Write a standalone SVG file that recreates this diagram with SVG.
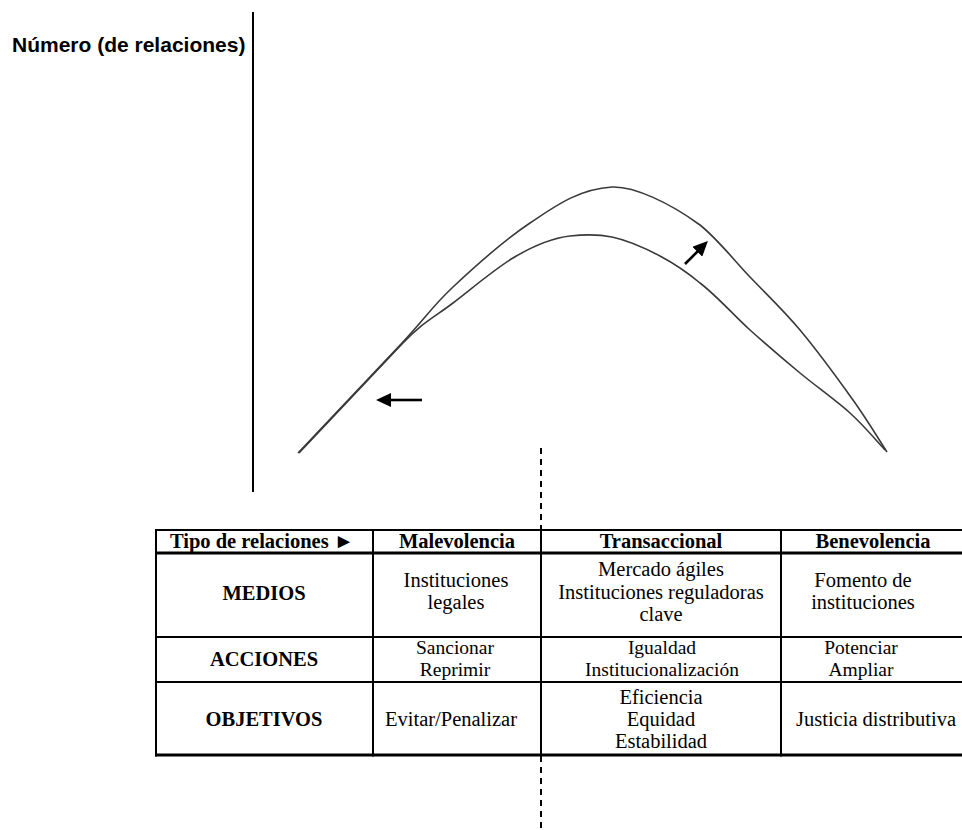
<svg xmlns="http://www.w3.org/2000/svg" width="962" height="830" viewBox="0 0 962 830">
<style>
.curve{fill:none;stroke:#3a3a3a;stroke-width:1.6}
.arr{stroke:#000;stroke-width:2.6;fill:none}
.grid{stroke:#000;stroke-width:2;fill:none}
.thick{stroke:#000;stroke-width:3.2;fill:none}
.dash{stroke:#000;stroke-width:2;stroke-dasharray:6 5;fill:none}
.hd{font-family:"Liberation Serif","Times New Roman",serif;font-weight:bold;font-size:20.5px;fill:#000;text-anchor:middle}
.tx{font-family:"Liberation Serif","Times New Roman",serif;font-size:20.5px;fill:#000;text-anchor:middle}
.sm{font-size:19.5px}
.lab{font-family:"Liberation Sans",Arial,sans-serif;font-weight:bold;font-size:21px;fill:#000}
</style>
<defs>
<marker id="head" viewBox="0 0 15 14" refX="1" refY="7" markerWidth="15" markerHeight="14" markerUnits="userSpaceOnUse" orient="auto">
<path d="M0,0 L15,7 L0,14 z" fill="#000"/>
</marker>
</defs>
<rect width="962" height="830" fill="#fff"/>

<g id="axis">
<line x1="253" y1="12" x2="253" y2="492" stroke="#000" stroke-width="2"/>
<text class="lab" x="12" y="52">Número (de relaciones)</text>
</g>

<g id="curves">
<path id="outer-curve" class="curve" d="M298,453 L402,343 C427.8,315.3 431.7,307 453,287 C474.3,267 506,239 530,223 C554,207 578,189 612,187 C634,186 670,203 700,225 C717.8,239.2 733.3,259.5 750,277 C766.7,294.5 782.8,309.5 800,330 C817.2,350.5 838.5,379.7 853,400 C867.5,420.3 881.3,443.3 887,452"/>
<path id="inner-curve" class="curve" d="M299,453 L402,344 C424,321 434.5,317.2 453,303 C471.5,288.8 494.7,269 513,258 C531.3,247 552,238 570,236 C588,234 600,234.5 612,237 C626,240 643,247 660,256 C675,264 688,273 700,283 C717.8,296.7 733.3,315 750,330 C766.7,345 783.3,359.2 800,373 C816.7,386.8 835.8,400.2 850,413 C864.2,425.8 879.2,443.8 885,450"/>
</g>

<g id="connectors">
<line class="arr" x1="422" y1="400" x2="390" y2="400" marker-end="url(#head)"/>
<line class="arr" x1="685" y1="264" x2="698" y2="251" marker-end="url(#head)"/>
<line class="dash" x1="541" y1="448" x2="541" y2="530"/>
<line class="dash" x1="541" y1="756" x2="541" y2="830"/>
</g>

<g id="table">
<g id="table-lines">
<line class="grid" x1="155" y1="530" x2="962" y2="530"/>
<line class="thick" x1="155" y1="553" x2="962" y2="553"/>
<line class="grid" x1="155" y1="637" x2="962" y2="637"/>
<line class="grid" x1="155" y1="682" x2="962" y2="682"/>
<line class="thick" x1="155" y1="755" x2="962" y2="755"/>
<line class="grid" x1="156" y1="529" x2="156" y2="756.5"/>
<line class="grid" x1="373" y1="529" x2="373" y2="756.5"/>
<line class="grid" x1="541" y1="529" x2="541" y2="756.5"/>
<line class="grid" x1="781" y1="529" x2="781" y2="756.5"/>
</g>
<g id="header">
<text class="hd" x="262" y="548">Tipo de relaciones ►</text>
<text class="hd" x="457" y="548">Malevolencia</text>
<text class="hd" x="661" y="548">Transaccional</text>
<text class="hd" x="873" y="548">Benevolencia</text>
</g>
<g id="row-medios">
<text class="hd" x="264" y="600">MEDIOS</text>
<text class="tx" x="456" y="587">Instituciones</text>
<text class="tx" x="456" y="609">legales</text>
<text class="tx" x="661" y="576">Mercado ágiles</text>
<text class="tx" x="661" y="598.5">Instituciones reguladoras</text>
<text class="tx" x="661" y="621">clave</text>
<text class="tx" x="863" y="587">Fomento de</text>
<text class="tx" x="863" y="609">instituciones</text>
</g>
<g id="row-acciones">
<text class="hd" x="264" y="666">ACCIONES</text>
<text class="tx sm" x="455" y="654">Sancionar</text>
<text class="tx sm" x="455" y="675.5">Reprimir</text>
<text class="tx sm" x="662" y="654">Igualdad</text>
<text class="tx sm" x="662" y="675.5">Institucionalización</text>
<text class="tx sm" x="861" y="654">Potenciar</text>
<text class="tx sm" x="861" y="675.5">Ampliar</text>
</g>
<g id="row-objetivos">
<text class="hd" x="264" y="726">OBJETIVOS</text>
<text class="tx" x="451" y="726">Evitar/Penalizar</text>
<text class="tx" x="661" y="704">Eficiencia</text>
<text class="tx" x="661" y="726">Equidad</text>
<text class="tx" x="661" y="748">Estabilidad</text>
<text class="tx" x="876" y="726">Justicia distributiva</text>
</g>
</g>
</svg>
